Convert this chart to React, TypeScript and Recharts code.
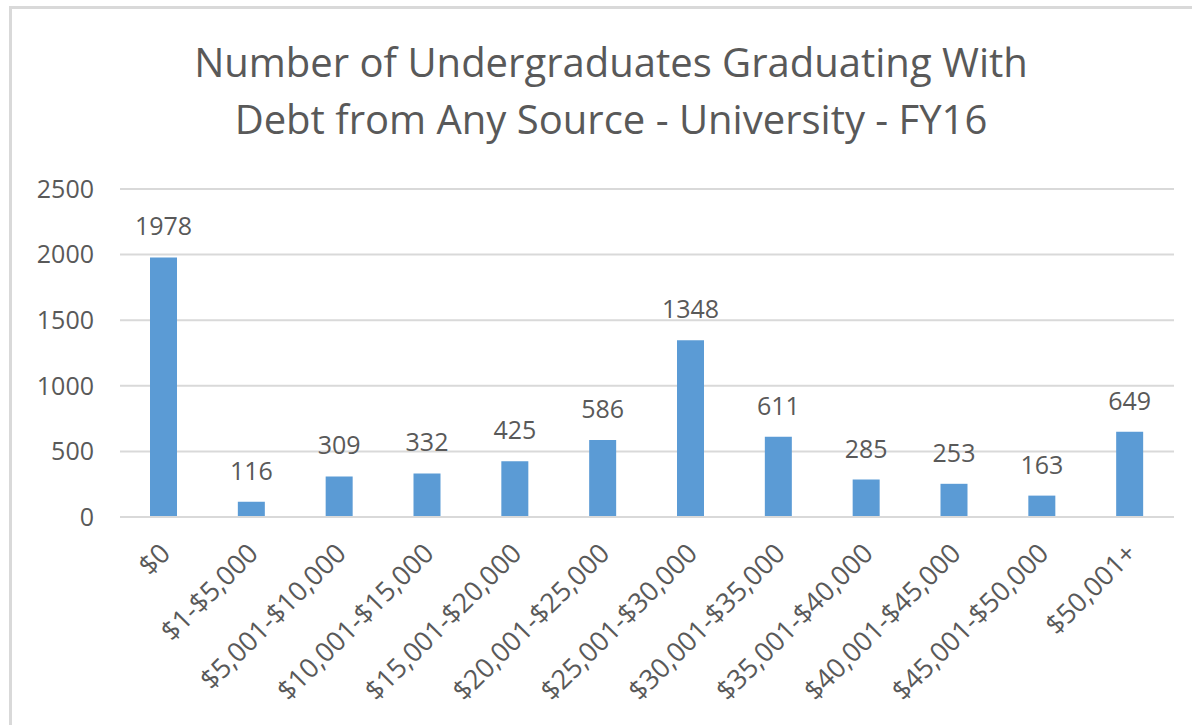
import { BarChart, Bar, XAxis, YAxis, CartesianGrid, LabelList } from 'recharts';

const categories = [
  '$0',
  '$1-$5,000',
  '$5,001-$10,000',
  '$10,001-$15,000',
  '$15,001-$20,000',
  '$20,001-$25,000',
  '$25,001-$30,000',
  '$30,001-$35,000',
  '$35,001-$40,000',
  '$40,001-$45,000',
  '$45,001-$50,000',
  '$50,001+',
];

const graduates = [1978, 116, 309, 332, 425, 586, 1348, 611, 285, 253, 163, 649];

const yTicks = [0, 500, 1000, 1500, 2000, 2500];

const FONT = '"Open Sans", sans-serif';
const TEXT = '#595959';

const data = categories.map((name, i) => ({ name, value: graduates[i] }));

// rotated category label, end of text sits just under the tick
function AngledTick(props: any) {
  const { x, y, payload } = props;
  return (
    <g transform={`translate(${x + 8},${y + 30})`}>
      <text
        transform="rotate(-45)"
        textAnchor="end"
        fill={TEXT}
        fontSize={27}
        fontFamily={FONT}
      >
        {payload.value}
      </text>
    </g>
  );
}

export default function App() {
  return (
    <div
      style={{
        position: 'absolute',
        left: 0,
        top: 0,
        width: 1192,
        height: 725,
        overflow: 'hidden',
        background: '#fff',
      }}
    >
      <div
        style={{
          position: 'absolute',
          left: 9,
          top: 6,
          width: 1300,
          height: 900,
          border: '3px solid #d9d9d9',
        }}
      />
      <div
        style={{
          position: 'absolute',
          left: 0,
          top: 33,
          width: 1222,
          textAlign: 'center',
          fontFamily: FONT,
          fontSize: 40,
          lineHeight: '57px',
          color: TEXT,
        }}
      >
        Number of Undergraduates Graduating With
        <br />
        Debt from Any Source - University - FY16
      </div>
      <div style={{ position: 'absolute', left: 0, top: 0 }}>
        <BarChart
          width={1192}
          height={725}
          data={data}
          margin={{ top: 189, right: 18, bottom: 0, left: 0 }}
        >
          <CartesianGrid vertical={false} stroke="#d9d9d9" strokeWidth={2} />
          <XAxis
            dataKey="name"
            interval={0}
            axisLine={{ stroke: '#d9d9d9', strokeWidth: 2 }}
            tickLine={false}
            tick={<AngledTick />}
            height={208}
          />
          <YAxis
            width={120}
            domain={[0, 2500]}
            ticks={yTicks}
            interval={0}
            axisLine={false}
            tickLine={false}
            tickMargin={20}
            tick={{ fill: TEXT, fontSize: 25, fontFamily: FONT }}
          />
          <Bar dataKey="value" fill="#5b9bd5" barSize={27} isAnimationActive={false}>
            <LabelList
              dataKey="value"
              position="top"
              offset={22}
              fill={TEXT}
              fontSize={25}
              fontFamily={FONT}
            />
          </Bar>
        </BarChart>
      </div>
    </div>
  );
}
